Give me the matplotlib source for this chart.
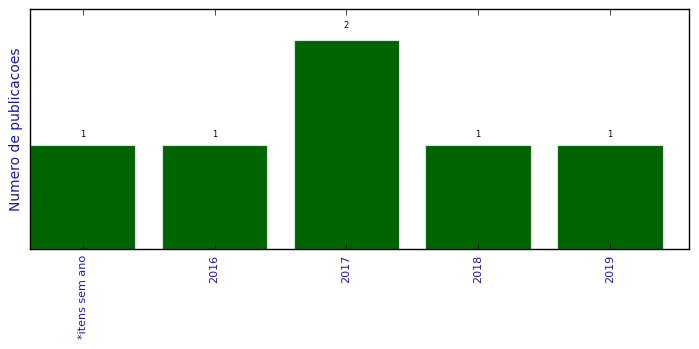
import matplotlib
matplotlib.use("Agg")
import matplotlib.pyplot as plt
import numpy as np

plt.style.use('classic')

categories = ['*itens sem ano', '2016', '2017', '2018', '2019']
counts = [1, 1, 2, 1, 1]

fig = plt.figure(figsize=(6.99, 3.49), dpi=100)
ax = fig.add_axes([30/699, 1-249/349, 659/699, 240/349])

x = np.arange(len(categories))
bars = ax.bar(x, counts, width=0.8, align='center', color='#006400',
              edgecolor='#e0e0e0', linewidth=0.8)

# rótulo acima de cada barra
for b, v in zip(bars, counts):
    ax.text(b.get_x() + b.get_width()/2, 1.05*v, str(v),
            ha='center', va='bottom', fontsize=6)

ax.set_xlim(-0.4, 4.6)
ax.set_ylim(0, max(counts)*1.15)
ax.set_xticks(x)
ax.set_xticklabels(categories, rotation=90, fontsize=8, color='#1a1aa0')
ax.set_yticks([])
ax.set_ylabel('Numero de publicacoes', fontsize=10, color='#1a1aa0')

fig.savefig('out.png', dpi=100)
